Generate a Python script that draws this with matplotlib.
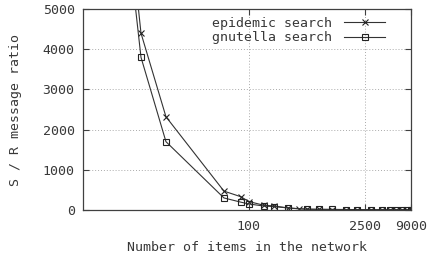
import matplotlib
matplotlib.use("Agg")
import matplotlib.pyplot as plt
from matplotlib.ticker import FixedLocator, FixedFormatter, NullLocator

# Data
epi_x = [4, 5, 10, 50, 80, 100, 150, 200, 300, 400, 500, 700, 1000, 1500, 2000,
         3000, 4000, 5000, 6000, 7000, 8000, 9000]
epi_y = [6300, 4400, 2320, 470, 330, 210, 120, 100, 50, 30, 20, 15, 12, 10, 8,
         6, 5, 5, 4, 4, 3, 3]
gnu_x = [4, 5, 10, 50, 80, 100, 150, 200, 300, 500, 700, 1000, 1500, 2000,
         3000, 4000, 5000, 6000, 7000, 8000, 9000]
gnu_y = [5600, 3800, 1700, 300, 195, 150, 100, 85, 50, 20, 18, 15, 12, 10,
         8, 7, 6, 5, 5, 4, 4]

x_ticks = [100, 2500, 9000]
x_tick_labels = ["100", "2500", "9000"]
y_ticks = [0, 1000, 2000, 3000, 4000, 5000]
y_tick_labels = ["0", "1000", "2000", "3000", "4000", "5000"]

plt.rcParams['font.family'] = ['DejaVu Sans Mono']
txt = '#383838'
axc = '#404040'
fs = 9.5

fig = plt.figure(figsize=(4.32, 2.56), dpi=100)
ax = fig.add_axes([83/432, 1-210/256, (411-83)/432, (210-9)/256])

ax.plot(epi_x, epi_y, color='#333333', lw=0.8, marker='x', ms=5, mew=0.8,
        mec='#222222', label='epidemic search', clip_on=True)
ax.plot(gnu_x, gnu_y, color='#333333', lw=0.8, marker='s', ms=4.5, mew=0.8,
        mfc='none', mec='#222222', label='gnutella search', clip_on=True)

ax.set_xscale('log')
ax.set_xlim(1, 9000)
ax.set_ylim(0, 5000)
ax.xaxis.set_major_locator(FixedLocator(x_ticks))
ax.xaxis.set_major_formatter(FixedFormatter(x_tick_labels))
ax.xaxis.set_minor_locator(NullLocator())
ax.yaxis.set_major_locator(FixedLocator(y_ticks))
ax.yaxis.set_major_formatter(FixedFormatter(y_tick_labels))

ax.tick_params(direction='in', length=4, width=0.8, colors=axc, labelcolor=txt,
               labelsize=fs, top=True, right=True)
ax.tick_params(axis='x', pad=7)
ax.tick_params(axis='y', pad=6)

for s in ax.spines.values():
    s.set_color(axc)
    s.set_linewidth(0.9)

ax.grid(True, linestyle=(0, (1, 2)), color='#aaaaaa', lw=0.7)

ax.set_xlabel('Number of items in the network', fontsize=fs, color=txt, labelpad=6)
ax.set_ylabel('S / R message ratio', fontsize=fs, color=txt, labelpad=15)

leg = ax.legend(loc='upper right', frameon=False, fontsize=fs, markerfirst=False,
                handlelength=3.1, handletextpad=0.9, borderaxespad=0.2,
                labelspacing=0.1, bbox_to_anchor=(0.945, 1.0))
for t in leg.get_texts():
    t.set_color(txt)

fig.savefig('out.png', dpi=100)
